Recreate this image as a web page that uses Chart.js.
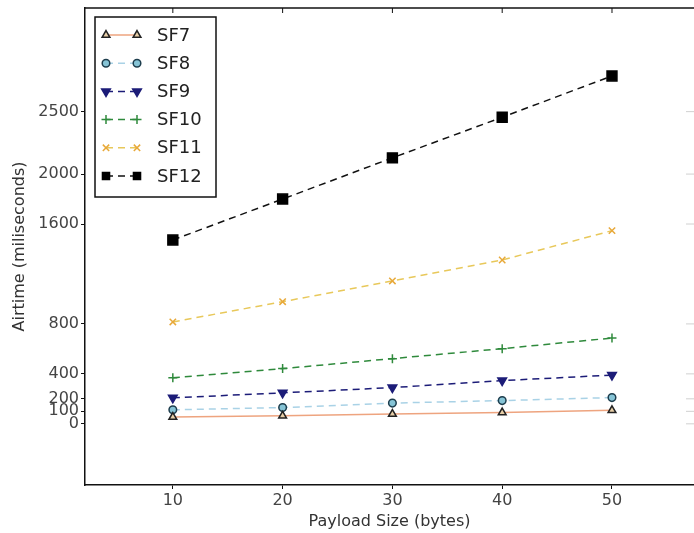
<!DOCTYPE html>
<html>
<head>
<meta charset="utf-8">
<script src="https://cdn.jsdelivr.net/npm/chart.js@4/dist/chart.umd.min.js"></script>
<style>
html,body{margin:0;padding:0;background:#fff;overflow:hidden;}
#wrap{position:relative;width:694px;height:533px;}
</style>
</head>
<body>
<div id="wrap"><canvas id="airtimeChart"></canvas></div>
<script>
const payloadSizes=[10,20,30,40,50];

const sf7=[54,64,78,90,108];
const sf8=[112,130,166,186,210];
const sf9=[208,248,290,346,390];
const sf10=[368,442,522,602,687];
const sf11=[816,978,1144,1312,1547];
const sf12=[1472,1800,2130,2455,2786];

const yTickValues=[0,100,200,400,800,1600,2000,2500];

const seriesNames=["SF7","SF8","SF9","SF10","SF11","SF12"];

function toPoints(values){
    return payloadSizes.map((x,i)=>({x:x,y:values[i]}));
}

function makeSet(name,values,line,fill,edge,style,radius,dash,rotation){
    return {
        label:name,
        data:toPoints(values),
        borderColor:line,
        borderWidth:1.5,
        borderDash:dash,
        pointStyle:style,
        pointRadius:radius,
        pointRotation:rotation||0,
        pointBackgroundColor:fill,
        pointBorderColor:edge,
        pointBorderWidth:1.5,
        pointHoverRadius:radius,
        tension:0,
        fill:false
    };
}

const datasets=[
    makeSet(seriesNames[0],sf7,"#eea47f","#e8cfa8","#222222","triangle",4.5,[],0),
    makeSet(seriesNames[1],sf8,"#a9d2e6","#86c4d6","#1d3d4d","circle",3.8,[7,5],0),
    makeSet(seriesNames[2],sf9,"#1c1c78","#1c1c78","#1c1c78","triangle",5,[7,5],180),
    makeSet(seriesNames[3],sf10,"#2f8a3c","#2f8a3c","#2f8a3c","cross",4.5,[7,5],0),
    makeSet(seriesNames[4],sf11,"#e8c85a","#e8a93a","#e8a93a","crossRot",4.5,[7,5],0),
    makeSet(seriesNames[5],sf12,"#111111","#000000","#000000","rect",7,[7,5],0)
];

// top frame line, inward ticks on top/right, and the legend box
const framePlugin={
    id:"frame",
    afterDatasetsDraw(chart){
        const ctx=chart.ctx;
        const a=chart.chartArea;
        const xs=chart.scales.x;
        const ys=chart.scales.y;
        ctx.save();
        ctx.strokeStyle="#111";
        ctx.lineWidth=1.5;
        ctx.beginPath();
        ctx.moveTo(a.left,a.top);
        ctx.lineTo(a.right,a.top);
        ctx.stroke();
        ctx.lineWidth=1;
        payloadSizes.forEach(v=>{
            const px=xs.getPixelForValue(v);
            ctx.beginPath();
            ctx.moveTo(px,a.top);
            ctx.lineTo(px,a.top+5);
            ctx.stroke();
        });
        ctx.strokeStyle="#d0d0d0";
        yTickValues.forEach(v=>{
            const py=ys.getPixelForValue(v);
            ctx.beginPath();
            ctx.moveTo(694,py);
            ctx.lineTo(686,py);
            ctx.stroke();
        });

        // legend
        const bx=95,by=17,bw=121,bh=180;
        ctx.fillStyle="#fff";
        ctx.fillRect(bx,by,bw,bh);
        ctx.strokeStyle="#111";
        ctx.lineWidth=1.5;
        ctx.strokeRect(bx,by,bw,bh);
        chart.data.datasets.forEach((ds,i)=>{
            const y=35+i*28.2;
            const x1=106,x2=137;
            ctx.save();
            ctx.strokeStyle=ds.borderColor;
            ctx.lineWidth=ds.borderWidth;
            ctx.setLineDash(ds.borderDash);
            ctx.beginPath();
            ctx.moveTo(x1,y);
            ctx.lineTo(x2,y);
            ctx.stroke();
            ctx.setLineDash([]);
            ctx.fillStyle=ds.pointBackgroundColor;
            ctx.strokeStyle=ds.pointBorderColor;
            ctx.lineWidth=ds.pointBorderWidth;
            const opts={
                pointStyle:ds.pointStyle,
                radius:Math.min(ds.pointRadius,5),
                rotation:ds.pointRotation,
                borderWidth:ds.pointBorderWidth
            };
            Chart.helpers.drawPoint(ctx,opts,x1,y);
            Chart.helpers.drawPoint(ctx,opts,x2,y);
            ctx.restore();
            ctx.fillStyle="#222";
            ctx.font="18px 'DejaVu Sans'";
            ctx.textBaseline="middle";
            ctx.textAlign="left";
            ctx.fillText(ds.label,157,y+1);
        });
        ctx.restore();
    }
};

new Chart(document.getElementById("airtimeChart").getContext("2d"),{
    type:"line",
    data:{datasets:datasets},
    options:{
        responsive:true,
        maintainAspectRatio:false,
        animation:false,
        layout:{autoPadding:false,padding:{top:8,right:0,bottom:0,left:0}},
        plugins:{
            legend:{display:false},
            tooltip:{enabled:false}
        },
        scales:{
            x:{
                type:"linear",
                min:2,
                max:57.47,
                afterBuildTicks:scale=>{
                    scale.ticks=payloadSizes.map(v=>({value:v}));
                },
                afterFit:scale=>{
                    scale.height=48;
                    scale.paddingLeft=0;
                    scale.paddingRight=0;
                },
                border:{display:true,color:"#111",width:1.5},
                grid:{display:true,drawOnChartArea:false,drawTicks:true,tickLength:4,color:"#111"},
                ticks:{
                    autoSkip:false,
                    maxRotation:0,
                    padding:2,
                    color:"#444",
                    font:{family:"DejaVu Sans",size:16},
                    callback:v=>String(v)
                },
                title:{
                    display:true,
                    text:"Payload Size (bytes)",
                    color:"#333",
                    font:{family:"DejaVu Sans",size:16},
                    padding:{top:0,bottom:2}
                }
            },
            y:{
                type:"linear",
                min:-490,
                max:3330,
                afterBuildTicks:scale=>{
                    scale.ticks=yTickValues.map(v=>({value:v}));
                },
                afterFit:scale=>{
                    scale.width=85;
                    scale.paddingTop=0;
                    scale.paddingBottom=0;
                },
                border:{display:true,color:"#111",width:1.5},
                grid:{display:true,drawOnChartArea:false,drawTicks:true,tickLength:4,color:"#111"},
                ticks:{
                    autoSkip:false,
                    padding:2,
                    color:"#444",
                    font:{family:"DejaVu Sans",size:16},
                    callback:v=>String(v)
                },
                title:{
                    display:true,
                    text:"Airtime (miliseconds)",
                    color:"#333",
                    font:{family:"DejaVu Sans",size:16},
                    padding:{top:10,bottom:0}
                }
            }
        }
    },
    plugins:[framePlugin]
});
</script>
</body>
</html>
